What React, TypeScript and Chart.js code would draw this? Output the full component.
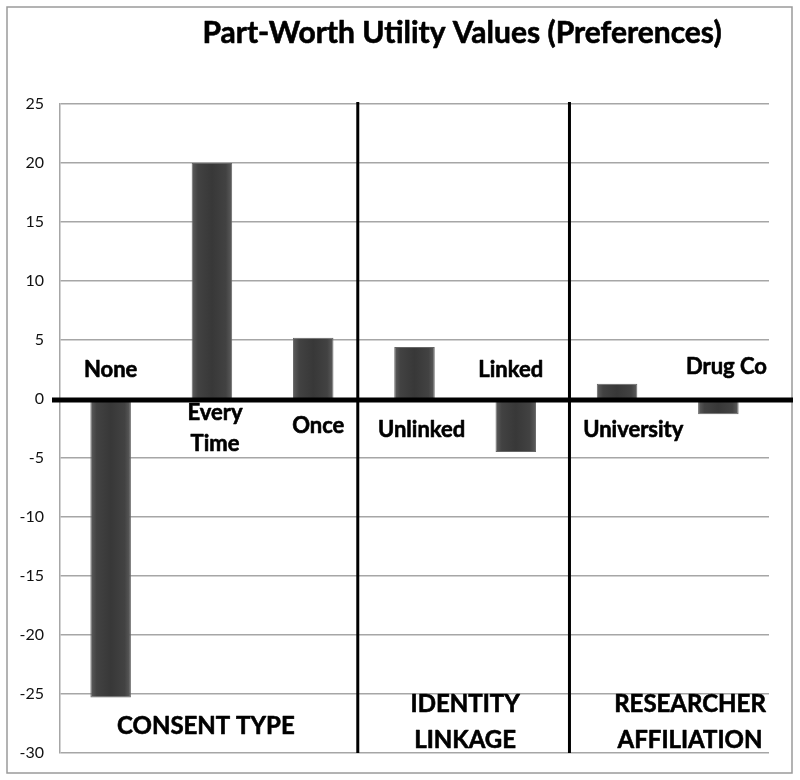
import React, { useEffect, useRef } from "react";
import { Chart, registerables } from "chart.js";

Chart.register(...registerables);

const categories = ["None", "Every Time", "Once", "Unlinked", "Linked", "University", "Drug Co"];
const utilities = [-25.3, 20.0, 5.2, 4.4, -4.5, 1.3, -1.3];
const groups = ["CONSENT TYPE", "IDENTITY LINKAGE", "RESEARCHER AFFILIATION"];
const yMin = -30;
const yMax = 25;
const yStep = 5;
const title = "Part-Worth Utility Values (Preferences)";

const FONT = "Lato, 'Open Sans', sans-serif";

// label anchors in axis units (category index, value) — layout only
const catLabelPos = [
  { i: 0.0, v: [2.46] },
  { i: 1.03, v: [-1.2, -3.8] },
  { i: 2.05, v: [-2.3] },
  { i: 3.07, v: [-2.6] },
  { i: 3.95, v: [2.46] },
  { i: 5.16, v: [-2.6] },
  { i: 6.08, v: [2.7] },
];
const groupLabelPos = [
  { i: 0.94, v: [-27.7] },
  { i: 3.5, v: [-25.9, -28.9] },
  { i: 5.72, v: [-25.9, -28.9] },
];
const separators = [2.44, 4.53];

function splitLabel(text: string, lines: number): string[] {
  if (lines === 1) return [text];
  const idx = text.indexOf(" ");
  return [text.slice(0, idx), text.slice(idx + 1)];
}

function heavyText(ctx: CanvasRenderingContext2D, t: string, px: number, py: number) {
  ctx.fillText(t, px, py);
  ctx.strokeText(t, px, py);
}

const decorPlugin = {
  id: "decor",
  beforeDraw(chart: any) {
    const ctx = chart.ctx;
    ctx.save();
    ctx.fillStyle = "#ffffff";
    ctx.fillRect(0, 0, chart.width, chart.height);
    ctx.strokeStyle = "#9a9a9a";
    ctx.lineWidth = 1.5;
    ctx.strokeRect(7, 7, 785, 766);
    ctx.restore();
  },
  afterDatasetsDraw(chart: any) {
    const ctx = chart.ctx;
    const x = chart.scales.x;
    const y = chart.scales.y;
    const area = chart.chartArea;
    ctx.save();
    // separators
    ctx.strokeStyle = "#000";
    ctx.lineWidth = 3;
    separators.forEach((s) => {
      const px = x.getPixelForValue(s);
      ctx.beginPath();
      ctx.moveTo(px, area.top - 2);
      ctx.lineTo(px, area.bottom);
      ctx.stroke();
    });
    // zero line
    const y0 = y.getPixelForValue(0);
    ctx.lineWidth = 5;
    ctx.beginPath();
    ctx.moveTo(area.left - 8, y0 + 1);
    ctx.lineTo(793, y0 + 1);
    ctx.stroke();

    ctx.fillStyle = "#000";
    ctx.strokeStyle = "#000";
    ctx.lineWidth = 0.6;
    ctx.lineJoin = "round";
    ctx.textAlign = "center";
    ctx.textBaseline = "middle";
    ctx.font = `bold 22px ${FONT}`;
    categories.forEach((c, k) => {
      const p = catLabelPos[k];
      const lines = splitLabel(c, p.v.length);
      lines.forEach((ln, j) => {
        heavyText(ctx, ln, x.getPixelForValue(p.i), y.getPixelForValue(p.v[j]));
      });
    });
    ctx.font = `bold 24px ${FONT}`;
    groups.forEach((g, k) => {
      const p = groupLabelPos[k];
      const lines = splitLabel(g, p.v.length);
      lines.forEach((ln, j) => {
        heavyText(ctx, ln, x.getPixelForValue(p.i), y.getPixelForValue(p.v[j]));
      });
    });
    ctx.font = `bold 30px ${FONT}`;
    heavyText(ctx, title, 462, 33);
    ctx.restore();
  },
};

export default function App() {
  const ref = useRef<HTMLCanvasElement | null>(null);
  useEffect(() => {
    if (!ref.current) return;
    const chart = new Chart(ref.current, {
      type: "bar",
      data: {
        labels: categories,
        datasets: [
          {
            data: utilities,
            backgroundColor: (c: any) => {
              const ch = c.chart;
              const xs = ch.scales && ch.scales.x;
              if (!xs || !ch.chartArea) return "#444";
              const cx = xs.getPixelForValue(c.dataIndex);
              const g = ch.ctx.createLinearGradient(cx - 20, 0, cx + 20, 0);
              g.addColorStop(0, "#5c5c5c");
              g.addColorStop(0.15, "#424242");
              g.addColorStop(0.5, "#383838");
              g.addColorStop(0.85, "#424242");
              g.addColorStop(1, "#5c5c5c");
              return g;
            },
            borderColor: "#666666",
            borderWidth: 1,
            barPercentage: 0.4,
            categoryPercentage: 1,
          },
        ],
      },
      options: {
        responsive: false,
        animation: false,
        layout: { padding: { left: 0, right: 31, top: 104, bottom: 27 } },
        plugins: { legend: { display: false }, tooltip: { enabled: false }, title: { display: false } },
        scales: {
          x: { display: false },
          y: {
            min: yMin,
            max: yMax,
            afterFit: (s: any) => {
              s.width = 60;
            },
            ticks: {
              stepSize: yStep,
              padding: 16,
              color: "#111",
              font: { family: FONT, size: 16 },
            },
            grid: { color: "#a6a6a6", lineWidth: 1.5, drawTicks: false },
            border: { display: true, color: "#a6a6a6", width: 1.5 },
          },
        },
      },
      plugins: [decorPlugin],
    });
    return () => chart.destroy();
  }, []);
  return (
    <div style={{ position: "absolute", left: 0, top: 0, width: 800, height: 780 }}>
      <canvas ref={ref} width={800} height={780} />
    </div>
  );
}
